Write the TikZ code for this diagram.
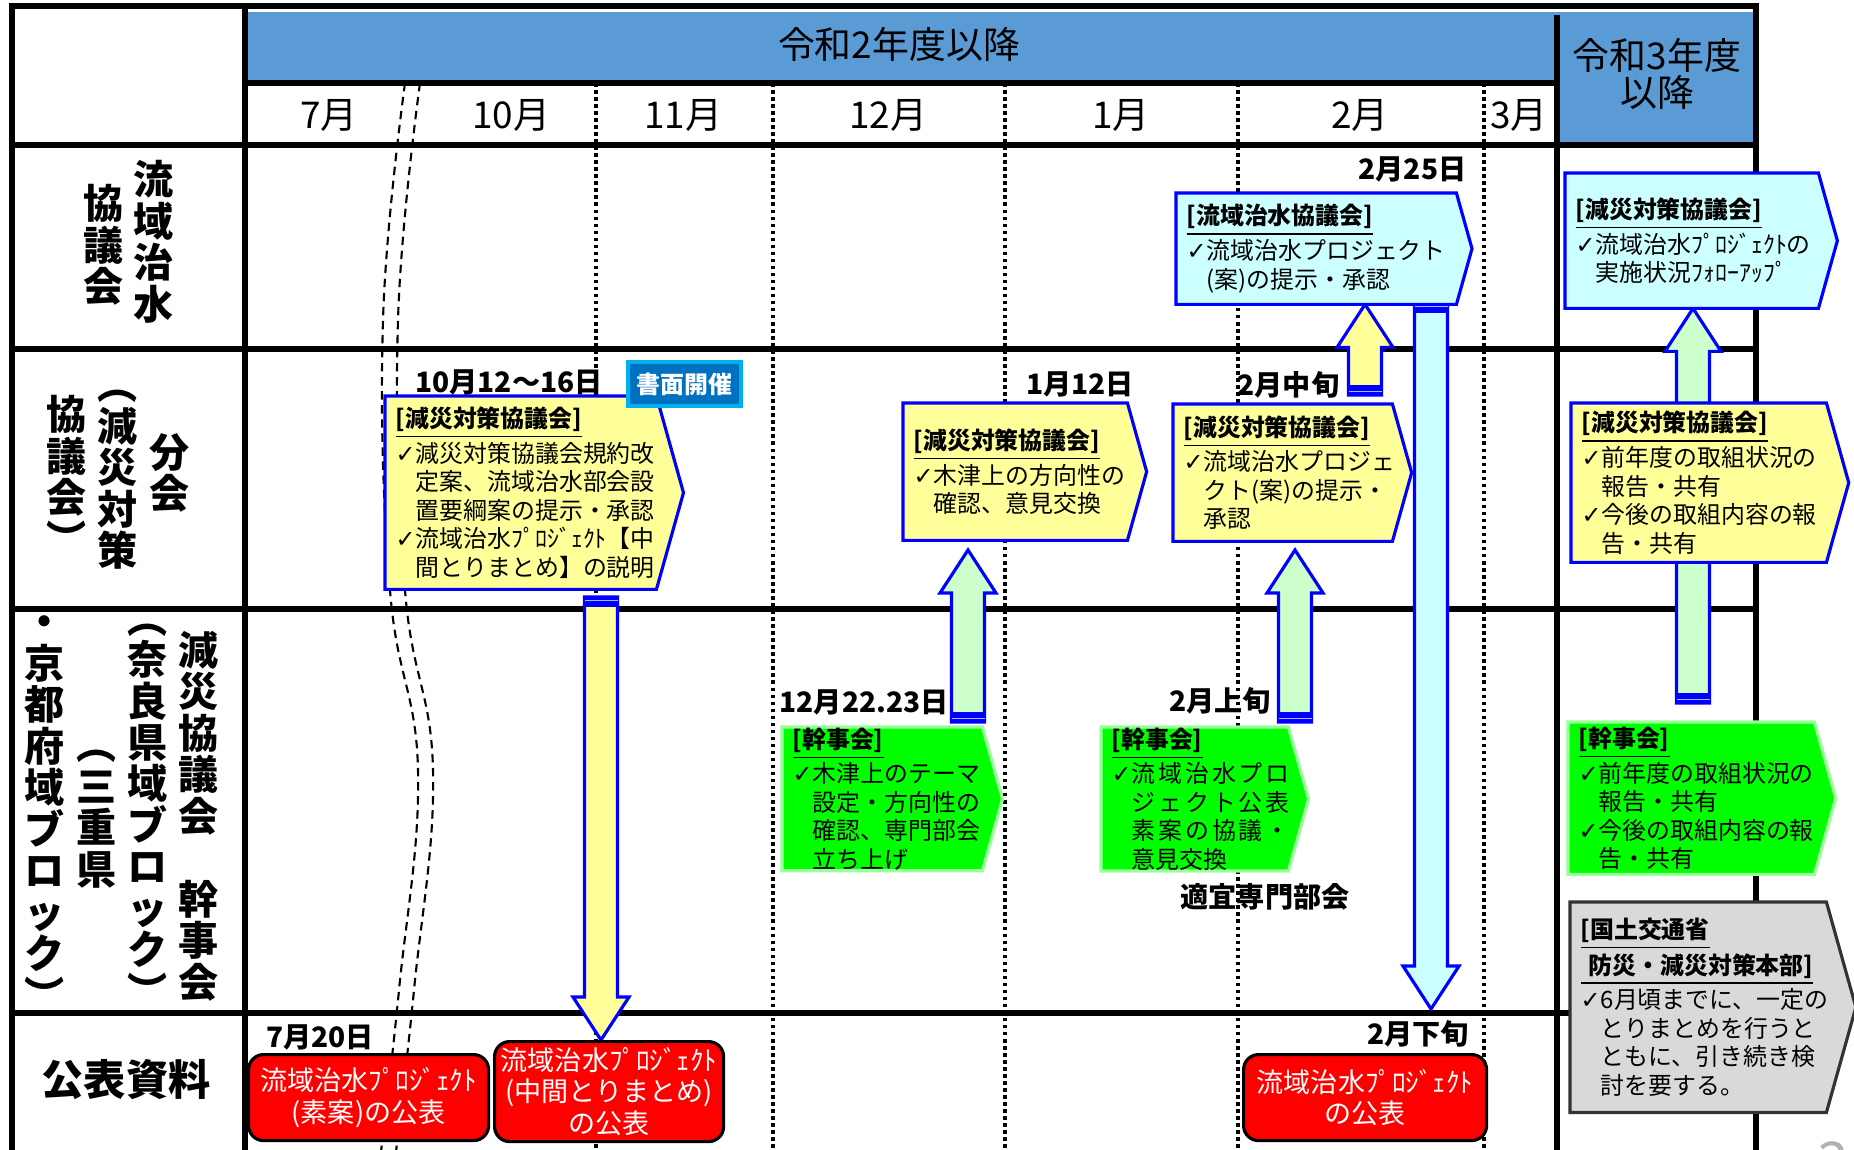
\documentclass[tikz,border=0pt]{standalone}
\usepackage{fontspec}
\setmainfont{Noto Sans CJK JP}
\newfontfamily\symfont{DejaVu Sans}
\usetikzlibrary{calc,backgrounds}

\definecolor{hdrblue}{RGB}{91,155,213}
\definecolor{boxyellow}{RGB}{255,255,153}
\definecolor{boxcyan}{RGB}{204,255,255}
\definecolor{arrgreen}{RGB}{204,255,204}
\definecolor{boxgreen}{RGB}{0,255,0}
\definecolor{grnedge}{RGB}{153,255,153}
\definecolor{boxgray}{RGB}{217,217,217}
\definecolor{badgeblue}{RGB}{0,112,192}
\definecolor{badgeedge}{RGB}{0,176,240}

\newcommand{\chk}{{\symfont ✓}}
\newcommand{\ind}{\hphantom{\chk}}
\newcommand{\ttl}[1]{\underline{\textbf{#1}}}
\newcommand{\wide}{\addfontfeature{LetterSpace=12}}

% block arrow: style, tail, tip
\newcommand{\blockarrow}[3]{%
  \coordinate (hb) at ($(#3)!0.43cm!(#2)$);
  \coordinate (bt) at ($(#2)!0.1cm!(#3)$);
  \coordinate (bs) at ($(#2)!0.035cm!(#3)$);
  \draw[#1] ($(#2)+(-0.165,0)$) -- ($(hb)+(-0.165,0)$) -- ($(hb)+(-0.28,0)$) -- (#3)
    -- ($(hb)+(0.28,0)$) -- ($(hb)+(0.165,0)$) -- ($(#2)+(0.165,0)$) -- cycle;
  \fill[blue] ($(#2)+(-0.175,0)$) rectangle ($(bt)+(0.175,0)$);
  \draw[white!70!blue, line width=0.4pt] ($(bs)+(-0.165,0)$) -- ($(bs)+(0.165,0)$);
}

\begin{document}
\begin{tikzpicture}[
    tline/.style={line width=1.8pt},
    mdiv/.style={line width=1pt, dash pattern=on 1pt off 1pt},
    brk/.style={line width=0.6pt, dash pattern=on 2.4pt off 1.6pt},
    monlbl/.style={font=\fontsize{10.5}{10.5}\selectfont},
    datelbl/.style={font=\fontsize{8}{9}\selectfont\bfseries, inner sep=0pt},
    vlbl/.style={font=\fontsize{11.4}{11.8}\selectfont\bfseries, align=center, inner sep=0pt},
    panel/.style={anchor=north west, inner xsep=1mm, inner ysep=0pt, align=left, font=\fontsize{6.8}{8.1}\selectfont},
    yelbox/.style={fill=boxyellow, draw=blue, line width=0.9pt},
    cyanbox/.style={fill=boxcyan, draw=blue, line width=0.9pt},
    grnbox/.style={fill=boxgreen, draw=grnedge, line width=0.9pt},
    graybox/.style={fill=boxgray, draw=black!80, line width=0.9pt},
    grnarrow/.style={fill=arrgreen, draw=blue, line width=0.9pt},
    pub/.style={anchor=north west, rounded corners=1.5mm, fill=red, draw=black, line width=0.9pt, text=white, align=center, inner sep=0pt, font=\fontsize{7.7}{9}\selectfont},
    badge/.style={fill=badgeblue, draw=badgeedge, line width=1pt, text=white, inner sep=0pt, minimum width=1.13cm, minimum height=0.44cm, font=\fontsize{6.8}{8}\selectfont\bfseries}
    ]

    \useasboundingbox (0,0) rectangle (18.54,-11.49);

    % table:
    \begin{scope}[on background layer]
      \fill[hdrblue] (2.45,-0.12) rectangle (17.56,-0.83);
      \fill[hdrblue] (15.57,-0.12) rectangle (17.56,-1.45);
      \foreach \x in {5.96,7.73,10.05,12.38,14.84}
        \draw[mdiv] (\x,-0.83) -- (\x,-11.6);
      \draw[brk] plot[smooth, tension=0.7] coordinates {(4.05,-0.83) (3.83,-3.2) (3.90,-5.9) (4.18,-7.7) (3.99,-9.9) (3.80,-11.6)};
      \draw[brk] plot[smooth, tension=0.7] coordinates {(4.20,-0.83) (3.98,-3.2) (4.05,-5.9) (4.33,-7.7) (4.14,-9.9) (3.95,-11.6)};
      \draw[tline] (0.12,-11.6) -- (0.12,-0.06) -- (17.56,-0.06) -- (17.56,-11.6);
      \draw[tline] (2.45,-0.06) -- (2.45,-11.6);
      \draw[tline] (15.57,-0.15) -- (15.57,-11.6);
      \draw[tline] (2.45,-0.83) -- (15.57,-0.83);
      \foreach \y in {1.45,3.49,6.09,10.13}
        \draw[tline] (0.12,-\y) -- (17.56,-\y);
    \end{scope}

    % header:
    \node (fy2) [monlbl] at (8.99,-0.44) {令和2年度以降};
    \node (fy3) [monlbl, align=center] at (16.57,-0.74) {令和3年度\\以降};
    \node (mon7) [monlbl] at (3.29,-1.15) {7月};
    \node (mon10) [monlbl] at (5.11,-1.15) {10月};
    \node (mon11) [monlbl] at (6.83,-1.15) {11月};
    \node (mon12) [monlbl] at (8.88,-1.15) {12月};
    \node (mon1) [monlbl] at (11.21,-1.15) {1月};
    \node (mon2) [monlbl] at (13.60,-1.15) {2月};
    \node (mon3) [monlbl] at (15.19,-1.15) {3月};

    % row labels:
    \node (lab1a) [vlbl] at (1.54,-2.42) {流\\域\\治\\水};
    \node (lab1b) [vlbl] at (1.04,-2.45) {協\\議\\会};
    \node (lab2a) [vlbl] at (1.70,-4.73) {分\\会};
    \node (lab2b) [vlbl] at (1.18,-4.80) {︵\\減\\災\\対\\策};
    \node (lab2c) [vlbl] at (0.67,-4.75) {協\\議\\会\\︶};
    \node (lab3a) [vlbl] at (1.99,-8.16) {減\\災\\協\\議\\会\\　\\幹\\事\\会};
    \node (lab3b) [vlbl] at (1.48,-8.15) {︵\\奈\\良\\県\\域\\ブ\\ロ\\ッ\\ク\\︶};
    \node (lab3c) [vlbl] at (0.97,-8.19) {︵\\三\\重\\県};
    \node (lab3d) [vlbl] at (0.45,-8.13) {・\\京\\都\\府\\域\\ブ\\ロ\\ッ\\ク\\︶};
    \node (lab4) [font=\fontsize{12}{12}\selectfont\bfseries] at (1.26,-10.80) {公表資料};

    % dates:
    \node (d225) [datelbl, anchor=east] at (14.67,-1.69) {2月25日};
    \node (d1012) [datelbl] at (5.09,-3.82) {10月12～16日};
    \node (shomen) [badge] at (6.845,-3.84) {書面開催};
    \node (d112) [datelbl] at (10.80,-3.84) {1月12日};
    \node (d2mid) [datelbl, anchor=west] at (12.37,-3.85) {2月中旬};
    \node (d1222) [datelbl, anchor=west] at (7.79,-7.02) {12月22.23日};
    \node (d2early) [datelbl] at (12.20,-7.01) {2月上旬};
    \node (senmon) [datelbl] at (12.65,-8.97) {適宜専門部会};
    \node (d720) [datelbl] at (3.20,-10.37) {7月20日};
    \node (d2late) [datelbl] at (14.18,-10.34) {2月下旬};

    % meetings:
    \node (ryuiki) [panel, text width=2.59cm, minimum height=1.10cm] at (11.76,-1.93)
      {\ttl{[流域治水協議会]}\\\chk 流域治水プロジェクト\\\ind (案)の提示・承認};
    \node (follow) [panel, text width=2.32cm, minimum height=1.34cm] at (15.65,-1.73)
      {\ttl{[減災対策協議会]}\\\chk 流域治水ﾌﾟﾛｼﾞｪｸﾄの\\\ind 実施状況ﾌｫﾛｰｱｯﾌﾟ};
    \node (gen10) [panel, text width=2.50cm, minimum height=1.92cm] at (3.85,-3.96)
      {\ttl{[減災対策協議会]}\\\chk 減災対策協議会規約改\\\ind 定案、流域治水部会設\\\ind 置要綱案の提示・承認\\\chk 流域治水ﾌﾟﾛｼﾞｪｸﾄ【中\\\ind 間とりまとめ】の説明};
    \node (gen1) [panel, text width=2.03cm, minimum height=1.36cm] at (9.03,-4.03)
      {\ttl{[減災対策協議会]}\\\chk 木津上の方向性の\\\ind 確認、意見交換};
    \node (gen2) [panel, text width=1.98cm, minimum height=1.36cm] at (11.73,-4.04)
      {\ttl{[減災対策協議会]}\\\chk 流域治水プロジェ\\\ind クト(案)の提示・\\\ind 承認};
    \node (genR3) [panel, text width=2.34cm, minimum height=1.58cm] at (15.71,-4.03)
      {\ttl{[減災対策協議会]}\\\chk 前年度の取組状況の\\\ind 報告・共有\\\chk 今後の取組内容の報\\\ind 告・共有};
    \node (kan12) [panel, text width=1.79cm, minimum height=1.41cm] at (7.82,-7.27)
      {\ttl{[幹事会]}\\\chk 木津上のテーマ\\\ind 設定・方向性の\\\ind 確認、専門部会\\\ind 立ち上げ};
    \node (kan2) [panel, text width=1.66cm, minimum height=1.41cm] at (11.01,-7.27)
      {\ttl{[幹事会]}\\\chk{\wide 流域治水プロ}\\\ind{\wide ジェクト公表}\\\ind{\wide 素案の協議・}\\\ind 意見交換};
    \node (kanR3) [panel, text width=2.25cm, minimum height=1.51cm] at (15.68,-7.22)
      {\ttl{[幹事会]}\\\chk 前年度の取組状況の\\\ind 報告・共有\\\chk 今後の取組内容の報\\\ind 告・共有};
    \node (mlit) [panel, text width=2.35cm, minimum height=2.09cm] at (15.70,-9.02)
      {\ttl{[国土交通省}\\\ttl{\ 防災・減災対策本部]}\\\chk 6月頃までに、一定の\\\ind とりまとめを行うと\\\ind ともに、引き続き検\\\ind 討を要する。};

    % publications:
    \node (pub7) [pub, minimum width=2.40cm, minimum height=0.86cm] at (2.47,-10.53) {流域治水ﾌﾟﾛｼﾞｪｸﾄ\\(素案)の公表};
    \node (pubmid) [pub, minimum width=2.29cm, minimum height=1.00cm] at (4.93,-10.40) {流域治水ﾌﾟﾛｼﾞｪｸﾄ\\(中間とりまとめ)\\の公表};
    \node (pubfeb) [pub, minimum width=2.43cm, minimum height=0.86cm] at (12.42,-10.53) {流域治水ﾌﾟﾛｼﾞｪｸﾄ\\の公表};

    \node (pgno) [text=gray!60, font=\fontsize{16}{16}\selectfont] at (18.33,-11.62) {3};

    % arrow ends:
    \coordinate (a1s) at (6.01,-5.97);
    \coordinate (a1e) at (a1s |- pubmid.north);
    \coordinate (a2s) at (14.31,-3.03);
    \coordinate (a2e) at (14.31,-10.09);
    \coordinate (a3s) at (13.65,-3.95);
    \coordinate (a3e) at (a3s |- ryuiki.south);
    \coordinate (a4s) at (9.68,-7.22);
    \coordinate (a4e) at (9.68,-5.50);
    \coordinate (a5s) at (12.95,-7.22);
    \coordinate (a5e) at (12.95,-5.50);
    \coordinate (a6s) at (16.93,-7.03);
    \coordinate (a6e) at (a6s |- follow.south);

    % connect boxes:
    \begin{scope}[on background layer]
      \blockarrow{yelbox}{a1s}{a1e}
      \blockarrow{cyanbox}{a2s}{a2e}
      \blockarrow{yelbox}{a3s}{a3e}
      \blockarrow{grnarrow}{a4s}{a4e}
      \blockarrow{grnarrow}{a5s}{a5e}
      \blockarrow{grnarrow}{a6s}{a6e}
    \end{scope}

    % box outlines:
    \begin{scope}[on background layer]
      \foreach \b/\s in {ryuiki/cyanbox, follow/cyanbox, gen10/yelbox, gen1/yelbox, gen2/yelbox, genR3/yelbox, kan12/grnbox, kan2/grnbox, kanR3/grnbox, mlit/graybox}
        \draw[\s] (\b.north west) -- (\b.north east) -- ($(\b.east)!0.28!-90:(\b.north east)$) -- (\b.south east) -- (\b.south west) -- cycle;
    \end{scope}

  \end{tikzpicture}
\end{document}
